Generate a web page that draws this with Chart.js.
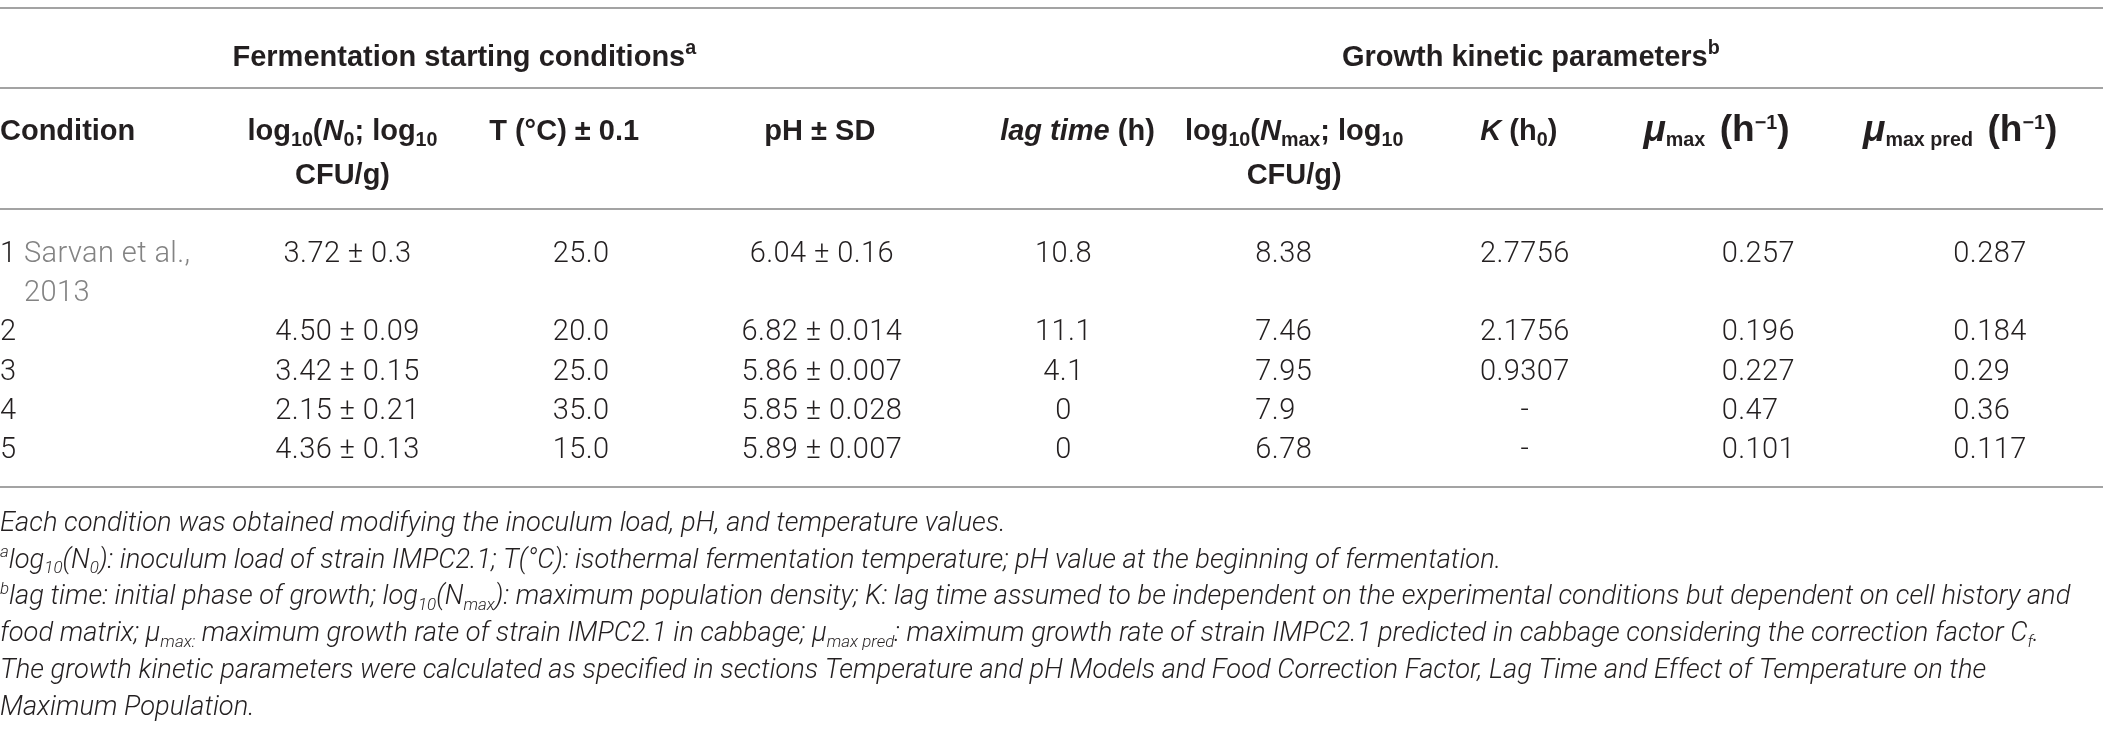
<!DOCTYPE html>
<html>
<head>
<meta charset="utf-8">
<title>Fermentation starting conditions and growth kinetic parameters</title>
<script src="https://cdn.jsdelivr.net/npm/chart.js@4.4.1/dist/chart.umd.min.js"></script>
<style>
  html, body { margin: 0; padding: 0; background: #ffffff; }
  #wrap { width: 2103px; height: 730px; position: relative; }
  canvas { display: block; }
</style>
</head>
<body>
<div id="wrap"><canvas id="table" width="2103" height="730"></canvas></div>
<script>
// ---------------- DATA ----------------
const columnKeys = ['condition', 'n0', 'temp', 'ph', 'lag', 'nmax', 'k', 'mumax', 'mupred'];
const columnHeaders = [
  ['Condition'],
  ['log_{10}(*N*_{0}; log_{10}', 'CFU/g)'],
  ['T (°C) ± 0.1'],
  ['pH ± SD'],
  ['*lag time* (h)'],
  ['log_{10}(*N*_{max}; log_{10}', 'CFU/g)'],
  ['*K* (h_{0})'],
  ['<*μ*>_{max}\u2002<(h>^{−1}<)>'],
  ['<*μ*>_{max pred}\u2002<(h>^{−1}<)>']
];
const groupHeaders = ['Fermentation starting conditions^{a}', 'Growth kinetic parameters^{b}'];
const groupFirstColumn = [0, 4];
const groupLastColumn = [3, 8];

const conditions = ['1', '2', '3', '4', '5'];
const references = ['Sarvan et al., 2013', '', '', '', ''];
const inoculum = [3.72, 4.50, 3.42, 2.15, 4.36];
const inoculumSD = [0.3, 0.09, 0.15, 0.21, 0.13];
const temperature = [25.0, 20.0, 25.0, 35.0, 15.0];
const pH = [6.04, 6.82, 5.86, 5.85, 5.89];
const pHSD = [0.16, 0.014, 0.007, 0.028, 0.007];
const lagTime = [10.8, 11.1, 4.1, 0, 0];
const nMax = [8.38, 7.46, 7.95, 7.9, 6.78];
const kValue = [2.7756, 2.1756, 0.9307, null, null];
const muMax = [0.257, 0.196, 0.227, 0.47, 0.101];
const muMaxPred = [0.287, 0.184, 0.29, 0.36, 0.117];

const footnotes = [
  'Each condition was obtained modifying the inoculum load, pH, and temperature values.',
  '^{a}log_{10}(N_{0}): inoculum load of strain IMPC2.1; T(°C): isothermal fermentation temperature; pH value at the beginning of fermentation.',
  '^{b}lag time: initial phase of growth; log_{10}(N_{max}): maximum population density; K: lag time assumed to be independent on the experimental conditions but dependent on cell history and',
  'food matrix; μ_{max:} maximum growth rate of strain IMPC2.1 in cabbage; μ_{max pred}: maximum growth rate of strain IMPC2.1 predicted in cabbage considering the correction factor C_{f}.',
  'The growth kinetic parameters were calculated as specified in sections Temperature and pH Models and Food Correction Factor, Lag Time and Effect of Temperature on the',
  'Maximum Population.'
];

// ---------------- STYLE / LAYOUT ----------------
const TEXT = '#231f20';
const GRAY = '#838383';
const RULE = '#a3a3a3';
const HEAD = { family: '"Liberation Sans", Arial, sans-serif', weight: 'bold', size: 29, italic: false, color: TEXT, sub: 0.68, spacing: 0, big: 1.28 };
const BODY = { family: 'Roboto, "Liberation Sans", sans-serif', weight: '300', size: 29, italic: false, color: TEXT, sub: 0.62, spacing: 0.4, big: 1 };
const NOTE = { family: 'Roboto, "Liberation Sans", sans-serif', weight: '300', size: 27.3, italic: true, color: TEXT, sub: 0.62, spacing: 0, big: 1 };

const headerAlign = ['left', 'center', 'center', 'center', 'center', 'center', 'center', 'center', 'center'];
const headerDx = [0, -8, -20, 2, 26, 9, 0, -36, -26];
const cellAlign = ['left', 'center', 'center', 'center', 'center', 'left', 'center', 'left', 'left'];
const cellDx = [0, -3, -3, 4, 12, 87, 6, 86, 84];
const groupDx = [-3, 12];

const groupSlot = 1;
const headerSlot = 2.9;
const headerLineStep = 1.12;
const bodySlot = 6;
const ruleSlots = [1.84, 4.92];
const noteFirstOffset = 34;
const noteStep = 36.8;

// ---------------- RICH TEXT ----------------
function parseRich(str) {
  const runs = [];
  let st = { italic: false, script: null, gray: false, big: false };
  const stack = [];
  let buf = '';
  const flush = () => { if (buf) { runs.push(Object.assign({ text: buf }, st)); buf = ''; } };
  for (let i = 0; i < str.length; i++) {
    const c = str[i];
    if ((c === '_' || c === '^') && str[i + 1] === '{') {
      flush(); stack.push(st.script);
      st = Object.assign({}, st, { script: c === '_' ? 'sub' : 'sup' });
      i++; continue;
    }
    if (c === '}' && stack.length) { flush(); st = Object.assign({}, st, { script: stack.pop() }); continue; }
    if (c === '*') { flush(); st = Object.assign({}, st, { italic: !st.italic }); continue; }
    if (c === '|') { flush(); st = Object.assign({}, st, { gray: !st.gray }); continue; }
    if (c === '<' || c === '>') { flush(); st = Object.assign({}, st, { big: c === '<' }); continue; }
    buf += c;
  }
  flush();
  return runs;
}
function runSize(base, r) {
  let s = r.script ? base.size * base.sub : base.size;
  if (r.big) s *= base.big;
  return s;
}
function runFont(base, r) {
  const ital = (base.italic !== !!r.italic) ? 'italic ' : '';
  return ital + base.weight + ' ' + runSize(base, r).toFixed(2) + 'px ' + base.family;
}
function setFont(ctx, base, r) {
  ctx.font = runFont(base, r);
  if ('letterSpacing' in ctx) ctx.letterSpacing = (base.spacing || 0) + 'px';
}
function runsWidth(ctx, runs, base) {
  let w = 0;
  for (const r of runs) { setFont(ctx, base, r); w += ctx.measureText(r.text).width; }
  return w;
}
function drawRuns(ctx, runs, base, x, yc, align) {
  const w = runsWidth(ctx, runs, base);
  let cx = align === 'center' ? x - w / 2 : (align === 'right' ? x - w : x);
  const by = yc + base.size * 0.36;
  ctx.textAlign = 'left';
  ctx.textBaseline = 'alphabetic';
  for (const r of runs) {
    setFont(ctx, base, r);
    const dy = r.script === 'sub' ? base.size * 0.2 : (r.script === 'sup' ? -base.size * 0.4 : 0);
    ctx.fillStyle = r.gray ? GRAY : base.color;
    ctx.fillText(r.text, cx, by + dy + (r.big && !r.script ? base.size * 0.04 : 0));
    cx += ctx.measureText(r.text).width;
  }
}

// Lines of the condition cell: the reference wraps with a hanging indent
function conditionLines(ctx, i, maxW) {
  const label = conditions[i] + (references[i] ? ' ' : '');
  if (!references[i]) return [{ runs: [{ text: label }], indent: 0 }];
  setFont(ctx, BODY, {});
  const indent = ctx.measureText(label).width;
  const words = references[i].split(' ');
  const lines = [];
  let cur = '';
  for (const w of words) {
    const trial = cur ? cur + ' ' + w : w;
    if (cur && ctx.measureText(trial).width > maxW - indent) { lines.push(cur); cur = w; }
    else cur = trial;
  }
  if (cur) lines.push(cur);
  return lines.map((t, k) => k === 0
    ? { runs: [{ text: label }, { text: t, gray: true }], indent: 0 }
    : { runs: [{ text: t, gray: true }], indent: indent });
}
function rowValues(i) {
  return [
    null,
    inoculum[i].toFixed(2) + ' ± ' + String(inoculumSD[i]),
    temperature[i].toFixed(1),
    pH[i].toFixed(2) + ' ± ' + String(pHSD[i]),
    String(lagTime[i]),
    String(nMax[i]),
    kValue[i] === null ? '-' : String(kValue[i]),
    String(muMax[i]),
    String(muMaxPred[i])
  ];
}

// ---------------- PLUGIN ----------------
const tablePlugin = {
  id: 'tableText',
  beforeDraw(chart) {
    const ctx = chart.ctx;
    ctx.save();
    ctx.fillStyle = '#ffffff';
    ctx.fillRect(0, 0, chart.width, chart.height);
    ctx.restore();
  },
  afterDraw(chart) {
    const ctx = chart.ctx;
    const x = chart.scales.x, y = chart.scales.y;
    const band = x.getPixelForValue(1) - x.getPixelForValue(0);
    const colCenter = c => x.getPixelForValue(c);
    const colLeft = c => x.getPixelForValue(c) - band / 2;
    const colRight = c => x.getPixelForValue(c) + band / 2;
    ctx.save();

    // horizontal rules
    ctx.strokeStyle = RULE;
    ctx.lineWidth = 2;
    const rules = [y.min, ...ruleSlots, y.max].map(s => Math.round(y.getPixelForValue(s)));
    for (const py of rules) {
      ctx.beginPath();
      ctx.moveTo(chart.chartArea.left, py);
      ctx.lineTo(chart.chartArea.right, py);
      ctx.stroke();
    }

    // group headers
    groupHeaders.forEach((g, k) => {
      const cx = (colLeft(groupFirstColumn[k]) + colRight(groupLastColumn[k])) / 2 + groupDx[k];
      drawRuns(ctx, parseRich(g), HEAD, cx, y.getPixelForValue(groupSlot), 'center');
    });

    // column headers
    columnHeaders.forEach((lines, c) => {
      lines.forEach((ln, k) => {
        const py = y.getPixelForValue(headerSlot + k * headerLineStep);
        const px = headerAlign[c] === 'left' ? colLeft(c) + headerDx[c] : colCenter(c) + headerDx[c];
        drawRuns(ctx, parseRich(ln), HEAD, px, py, headerAlign[c]);
      });
    });

    // body rows
    let slot = bodySlot;
    conditions.forEach((cond, i) => {
      const condLines = conditionLines(ctx, i, band * 0.95);
      condLines.forEach((ln, k) => {
        drawRuns(ctx, ln.runs, BODY, colLeft(0) + cellDx[0] + ln.indent, y.getPixelForValue(slot + k), 'left');
      });
      const vals = rowValues(i);
      for (let c = 1; c < columnKeys.length; c++) {
        const px = cellAlign[c] === 'left' ? colLeft(c) + cellDx[c] : colCenter(c) + cellDx[c];
        drawRuns(ctx, [{ text: vals[c] }], BODY, px, y.getPixelForValue(slot), cellAlign[c]);
      }
      slot += condLines.length;
    });

    // footnotes
    const bottom = y.getPixelForValue(y.max);
    footnotes.forEach((n, k) => {
      drawRuns(ctx, parseRich(n), NOTE, chart.chartArea.left, bottom + noteFirstOffset + k * noteStep, 'left');
    });
    ctx.restore();
  }
};

function build() {
  new Chart(document.getElementById('table'), {
    type: 'bar',
    data: { labels: columnKeys, datasets: [] },
    options: {
      responsive: false,
      animation: false,
      devicePixelRatio: 1,
      layout: { padding: { top: 8, bottom: 243, left: 0, right: 0 } },
      scales: {
        x: { type: 'category', offset: true, display: false },
        y: { type: 'linear', reverse: true, min: -0.2, max: 12, display: false }
      },
      plugins: { legend: { display: false }, tooltip: { enabled: false }, title: { display: false } }
    },
    plugins: [tablePlugin]
  });
}
const fontLoads = [
  '300 29px Roboto', 'italic 300 27px Roboto', 'bold 29px "Liberation Sans"', 'bold italic 29px "Liberation Sans"'
].map(f => document.fonts.load(f).catch(() => null));
Promise.race([Promise.all(fontLoads), new Promise(r => setTimeout(r, 800))]).then(build);
</script>
</body>
</html>
